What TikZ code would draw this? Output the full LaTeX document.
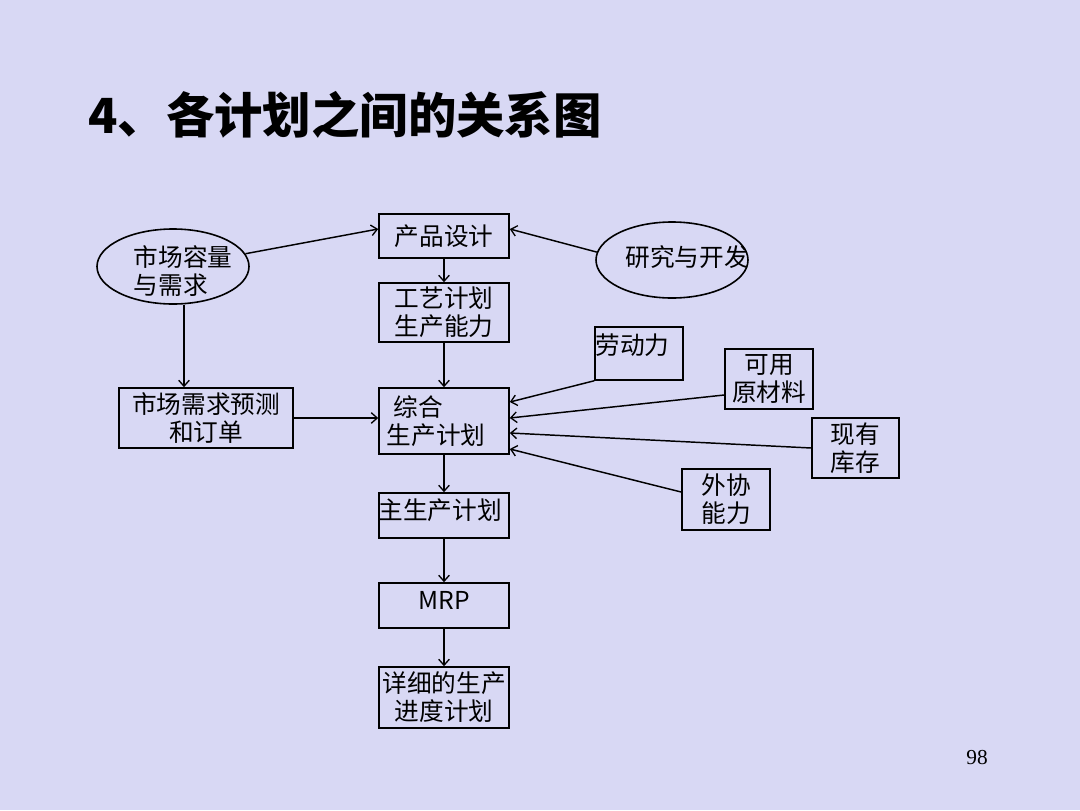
\documentclass[tikz,border=0pt]{standalone}
\usepackage{fontspec}
\setmainfont{Liberation Serif}
\newfontfamily\cjk{Noto Sans CJK SC}
\usetikzlibrary{shapes.geometric,arrows.meta,calc}
\definecolor{bgc}{RGB}{216,216,244}
\tikzset{
  body/.style={font=\cjk\fontsize{18.5pt}{21pt}\selectfont},
  box/.style={body, draw=black, line width=1.2pt, rectangle, inner sep=0pt, align=center},
  oval/.style={body, draw=black, line width=1.2pt, ellipse, inner sep=0pt},
  lbl/.style={body, inner sep=0pt, align=left},
  arr/.style={line width=1.1pt, -{Straight Barb[length=4.5pt,width=8pt,line width=1pt]}}
}
\begin{document}
\begin{tikzpicture}[x=0.75pt,y=-0.75pt]
\fill[bgc] (0,0) rectangle (1080,810);
\useasboundingbox (0,0) rectangle (1080,810);

% title
\node[anchor=west, inner sep=0pt, font=\cjk\bfseries\fontsize{36.3pt}{40pt}\selectfont] (title) at (88,115) {4、各计划之间的关系图};

% central column
\node[box, minimum width=97.5pt, minimum height=33pt] (cp) at (444,236) {产品设计};
\node[box, minimum width=97.5pt, minimum height=44.25pt] (gy) at (444,312.5) {工艺计划\\生产能力};
\node[box, minimum width=97.5pt, minimum height=49.5pt, text width=86pt, align=left] (zh) at (444,421) {\hspace*{5.25pt}综合\\生产计划};
\node[box, minimum width=97.5pt, minimum height=33.75pt,
      label={[lbl, xshift=-3pt, yshift=4pt]center:主生产计划}] (zs) at (444,515.5) {};
\node[box, minimum width=97.5pt, minimum height=33.75pt,
      label={[lbl, yshift=4pt]center:MRP}] (mrp) at (444,605.5) {};
\node[box, minimum width=97.5pt, minimum height=45.75pt] (xx) at (444,697.5) {详细的生产\\进度计划};

% left side
\node[oval, minimum width=114pt, minimum height=56.25pt,
      label={[lbl, xshift=7.5pt, yshift=-3.75pt]center:市场容量\\与需求}] (e1) at (173,266.5) {};
\node[box, minimum width=130.5pt, minimum height=45pt] (mk) at (206,418) {市场需求预测\\和订单};

% right side
\node[oval, minimum width=114pt, minimum height=57pt,
      label={[lbl, xshift=11.25pt, yshift=2.25pt]center:研究与开发}] (e2) at (672,260) {};
\node[box, minimum width=66pt, minimum height=39.75pt,
      label={[lbl, xshift=-4.9pt, yshift=6.4pt]center:劳动力}] (ld) at (639,353.5) {};
\node[box, minimum width=66pt, minimum height=45pt] (yl) at (769,379) {可用\\原材料};
\node[box, minimum width=65.25pt, minimum height=45pt] (xy) at (855.5,448) {现有\\库存};
\node[box, minimum width=66pt, minimum height=45.75pt] (wx) at (726,499.5) {外协\\能力};

% page number
\node[font=\fontsize{16pt}{18pt}\selectfont, inner sep=0pt] (pn) at (977,757) {98};

% connectors
\draw[arr] (e1.10) -- ([yshift=5.25pt]cp.west);
\draw[arr] (e2.174) -- ([yshift=5.25pt]cp.east);
\draw[arr] (cp.south) -- (gy.north);
\draw[arr] (gy.south) -- (zh.north);
\draw[arr] ([xshift=8.25pt]e1.south) -- ([xshift=8.25pt]e1.south |- mk.north);
\draw[arr] (mk.east) -- (mk.east -| zh.west);
\draw[arr] (ld.south west) -- ([yshift=14.25pt]zh.east);
\draw[arr] ([yshift=-12pt]yl.west) -- ([yshift=2.25pt]zh.east);
\draw[arr] (xy.west) -- ([yshift=-9pt]zh.east);
\draw[arr] ([yshift=5.6pt]wx.west) -- ([yshift=-21pt]zh.east);
\draw[arr] (zh.south) -- (zs.north);
\draw[arr] (zs.south) -- (mrp.north);
\draw[arr] (mrp.south) -- (xx.north);
\end{tikzpicture}
\end{document}
